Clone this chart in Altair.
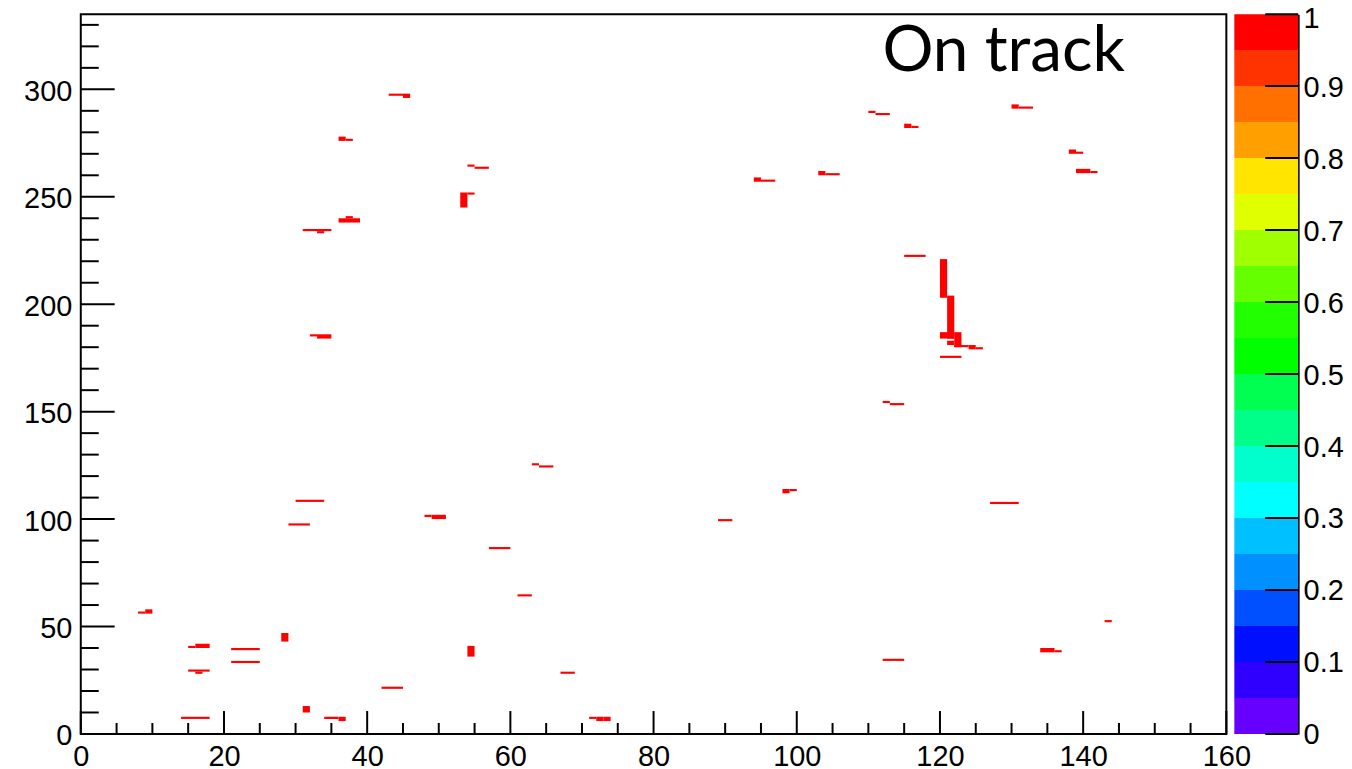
import altair as alt
import pandas as pd

# ---------------- data ----------------
# histogram cells (runs of bins): x from-to, y from-to, content
seg_x0 = [43, 45, 36, 37, 31, 33, 36, 37, 32, 33, 30, 29, 48, 49, 8, 9, 15, 16, 15, 16,
          21, 21, 28, 31, 14, 34, 36, 42, 54, 55, 53, 54, 94, 95, 103, 104, 110, 111, 115, 116,
          130, 131, 138, 139, 139, 141, 115, 120, 121, 120, 122, 121, 122, 124, 125, 120, 112, 113,
          63, 64, 98, 99, 57, 61, 89, 54, 67, 71, 72, 73, 112, 127, 143, 134, 136]
seg_x1 = [45, 46, 37, 38, 35, 34, 39, 38, 33, 35, 34, 32, 49, 51, 9, 10, 16, 18, 18, 17,
          25, 25, 29, 32, 18, 36, 37, 45, 55, 57, 54, 55, 95, 97, 104, 106, 111, 113, 116, 117,
          131, 133, 139, 140, 141, 142, 118, 121, 122, 122, 123, 122, 124, 125, 126, 123, 113, 115,
          64, 66, 99, 100, 60, 63, 91, 55, 69, 72, 73, 74, 115, 131, 144, 136, 137]
seg_y0 = [297, 296, 276, 276, 234, 233, 238, 240, 185, 184, 108, 97, 101, 100, 56, 56, 40, 40, 29, 28,
          39, 33, 43, 10, 7, 7, 6, 21, 264, 263, 245, 251, 257, 257, 260, 260, 289, 288, 282, 282,
          291, 291, 270, 270, 261, 261, 222, 203, 184, 184, 180, 181, 180, 179, 179, 175, 154, 153,
          125, 124, 112, 113, 86, 64, 99, 36, 28, 7, 6, 6, 34, 107, 52, 38, 38]
seg_y1 = [298, 298, 278, 277, 235, 234, 240, 241, 186, 186, 109, 98, 102, 102, 57, 58, 41, 42, 30, 29,
          40, 34, 47, 13, 8, 8, 8, 22, 265, 264, 252, 252, 259, 258, 262, 261, 290, 289, 284, 283,
          293, 292, 272, 271, 263, 262, 223, 221, 204, 187, 187, 183, 181, 181, 180, 176, 155, 154,
          126, 125, 114, 114, 87, 65, 100, 41, 29, 8, 8, 8, 35, 108, 53, 40, 39]
seg_val = [1.0] * len(seg_x0)

# colour palette, 20 contours from 0 to 1
palette = ["#6600FF", "#3000FF", "#0010FF", "#0050FF", "#0090FF", "#00C0FF", "#00FFFF",
           "#00FFCC", "#00FF88", "#00FF50", "#00FF00", "#22FF00", "#66FF00", "#A0FF00",
           "#E0FF00", "#FFE500", "#FFA000", "#FF7000", "#FF3300", "#FF0000"]
band_lo = [i / 20 for i in range(20)]

x_labels = [0, 20, 40, 60, 80, 100, 120, 140, 160]
x_minor = [v for v in range(0, 161, 5) if v % 20 != 0]
y_labels = [0, 50, 100, 150, 200, 250, 300]
y_minor = [v for v in range(0, 336, 10) if v % 50 != 0]
z_labels = [0, 0.1, 0.2, 0.3, 0.4, 0.5, 0.6, 0.7, 0.8, 0.9, 1]
TITLE = "On track"

X_MAX, Y_MAX = 160, 335
W, H = 1149, 722
FONT = "Liberation Sans"
FS = 29

# ---------------- tables ----------------
cells = pd.DataFrame({"x0": seg_x0, "x1": seg_x1, "y0": seg_y0, "y1": seg_y1, "v": seg_val})
bands = pd.DataFrame({"lo": band_lo, "hi": [b + 0.05 for b in band_lo],
                      "mid": [b + 0.025 for b in band_lo]})

xs = alt.Scale(domain=[0, X_MAX], nice=False, zero=False)
ys = alt.Scale(domain=[0, Y_MAX], nice=False, zero=False)
cs = alt.Scale(type="quantize", domain=[0, 1], range=palette, nice=False)

lab = dict(labelFont=FONT, labelFontSize=FS, labelColor="black", title=None,
           ticks=False, grid=False, labelFlush=False, labelOverlap=False)

x_axis = alt.Axis(values=x_labels, domain=False, labelPadding=9, labelBound=False,
                  format="d", **lab)
y_axis = alt.Axis(values=y_labels, domain=False, labelPadding=9, labelOffset=2,
                  format="d", **lab)

rects = alt.Chart(cells).mark_rect(strokeWidth=0).encode(
    x=alt.X("x0:Q", scale=xs, axis=x_axis),
    x2="x1:Q",
    y=alt.Y("y0:Q", scale=ys, axis=y_axis),
    y2="y1:Q",
    color=alt.Color("v:Q", scale=cs, legend=None),
)

ytick_major = alt.Chart(pd.DataFrame({"t": y_labels})).mark_rule(color="black", strokeWidth=2).encode(
    y=alt.Y("t:Q", scale=ys), x=alt.value(0), x2=alt.value(34))
ytick_minor = alt.Chart(pd.DataFrame({"t": y_minor})).mark_rule(color="black", strokeWidth=2).encode(
    y=alt.Y("t:Q", scale=ys), x=alt.value(0), x2=alt.value(18))
xtick_major = alt.Chart(pd.DataFrame({"t": x_labels})).mark_rule(color="black", strokeWidth=2).encode(
    x=alt.X("t:Q", scale=xs), y=alt.value(H), y2=alt.value(H - 23))
xtick_minor = alt.Chart(pd.DataFrame({"t": x_minor})).mark_rule(color="black", strokeWidth=2).encode(
    x=alt.X("t:Q", scale=xs), y=alt.value(H), y2=alt.value(H - 11))

title = alt.Chart(pd.DataFrame({"t": [TITLE]})).mark_text(
    font="Lato", fontSize=64, align="left", baseline="alphabetic", color="black"
).encode(text="t:N", x=alt.value(804), y=alt.value(57))

main = alt.layer(rects, ytick_minor, ytick_major, xtick_minor, xtick_major, title).properties(
    width=W, height=H, view=alt.ViewBackground(stroke="black", strokeWidth=2))

cb_scale = alt.Scale(domain=[0, 1], nice=False, zero=False)
cbar_rect = alt.Chart(bands).mark_rect(strokeWidth=0).encode(
    y=alt.Y("lo:Q", scale=cb_scale,
            axis=alt.Axis(orient="right", values=z_labels, format="~g", domain=True,
                          domainColor="black", domainWidth=2, labelPadding=5,
                          labelOffset={"condition": {"test": "datum.value == 1", "value": 4},
                                       "value": 1},
                          **lab)),
    y2="hi:Q",
    x=alt.value(0), x2=alt.value(64),
    color=alt.Color("mid:Q", scale=cs, legend=None),
)
cbar_ticks = alt.Chart(pd.DataFrame({"t": z_labels})).mark_rule(color="black", strokeWidth=2).encode(
    y=alt.Y("t:Q", scale=cb_scale), x=alt.value(31), x2=alt.value(64))
cbar = alt.layer(cbar_rect, cbar_ticks).properties(
    width=64, height=H, view=alt.ViewBackground(stroke=None))

chart = alt.hconcat(main, cbar, spacing=8, bounds="flush").resolve_scale(color="independent").properties(
    padding={"left": 14, "top": -5, "right": 0, "bottom": 0}, background="white"
).configure_view(stroke=None)

chart.save("out.html", embed_options={"renderer": "svg", "actions": False})
